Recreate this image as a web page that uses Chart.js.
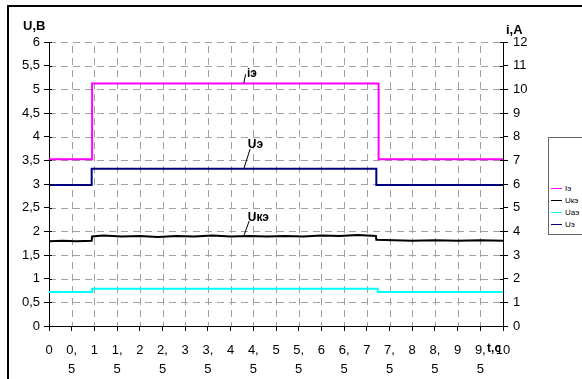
<!DOCTYPE html>
<html>
<head>
<meta charset="utf-8">
<script src="https://cdn.jsdelivr.net/npm/chart.js@4"></script>
<style>
	body { margin: 0; background: #fff; overflow: hidden; }
	#wrap { position: relative; width: 582px; height: 379px; }
	#frame { position: absolute; left: 7px; top: 5px; width: 700px; height: 500px; border: 2px solid #000; box-sizing: border-box; }
	#legend { position: absolute; left: 548px; top: 137px; width: 60px; height: 98px; border: 1px solid #666; box-sizing: border-box; background: #fff;
		font: 8px "Liberation Sans", Arial, sans-serif; }
	.item { position: absolute; left: 2px; height: 10px; line-height: 10px; }
	.item span { display: inline-block; width: 11px; height: 0; vertical-align: middle; margin-right: 3px; }
</style>
</head>
<body>
<div id="wrap">
	<div id="frame"></div>
	<canvas id="chart"></canvas>
	<div id="legend"></div>
</div>
<script>
// ---- data ----
// time, c  (step in / step out of the pulse)
const iTime  = [0, 0.95, 0.95, 7.26, 7.26, 10];
const iE     = [7.05, 7.05, 10.25, 10.25, 7.05, 7.05];           // i, A

const uTime  = [0, 0.94, 0.94, 7.21, 7.21, 10];
const uE     = [2.98, 2.98, 3.32, 3.32, 2.98, 2.98];             // U, B

const ukTime = [0, 0.3, 0.6, 0.94, 0.95, 1.2, 1.6, 2.0, 2.4, 2.8, 3.2, 3.6, 4.0, 4.4, 4.8, 5.2, 5.6, 6.0, 6.4, 6.8, 7.2, 7.21, 7.6, 8.0, 8.5, 9.0, 9.5, 10];
const ukE    = [1.79, 1.80, 1.79, 1.80, 1.89, 1.91, 1.89, 1.90, 1.88, 1.90, 1.89, 1.91, 1.89, 1.90, 1.89, 1.90, 1.89, 1.91, 1.90, 1.92, 1.90, 1.82, 1.81, 1.80, 1.81, 1.80, 1.81, 1.80];

const uaTime = [0, 0.95, 0.95, 7.24, 7.24, 10];
const uaE    = [0.72, 0.72, 0.785, 0.785, 0.72, 0.72];

const seriesNames  = ["Iэ", "Uкэ", "Uaэ", "Uэ"];
const seriesColors = ["#ff00ff", "#000000", "#00ffff", "#000080"];

// labels written on the plot: [text, line from (t,v), line to (t,v), text at (t,v)]
const notes = [
	["iэ",  [4.29, 5.13], [4.33, 5.32], [4.36, 5.34]],
	["Uэ",  [4.29, 3.32], [4.43, 3.74], [4.38, 3.82]],
	["Uкэ", [4.29, 1.90], [4.41, 2.22], [4.38, 2.28]],
];

const FONT = '"Liberation Sans", Arial, sans-serif';

function pts(xs, ys) { return xs.map((x, i) => ({ x: x, y: ys[i] })); }

function lineSet(idx, xs, ys, axis) {
	return {
		label: seriesNames[idx],
		data: pts(xs, ys),
		borderColor: seriesColors[idx],
		backgroundColor: seriesColors[idx],
		borderWidth: 2,
		pointRadius: 0,
		tension: 0,
		yAxisID: axis,
	};
}

function commaNum(v) { return String(v).replace(".", ","); }

/// dashed grid under the lines (the option for grid dashes gets eaten by the indexable resolver)
const dashGridPlugin = {
	id: "dashGrid",
	beforeDatasetsDraw(chart) {
		const ctx = chart.ctx;
		const area = chart.chartArea;
		const sx = chart.scales.x, sy = chart.scales.y;
		ctx.save();
		ctx.strokeStyle = "#a0a0a0";
		ctx.lineWidth = 1;
		ctx.setLineDash([7, 5]);
		ctx.beginPath();
		sy.ticks.forEach(t => {
			if (t.value === sy.min) return;
			const y = Math.round(sy.getPixelForValue(t.value)) + 0.5;
			ctx.moveTo(area.left, y); ctx.lineTo(area.right, y);
		});
		ctx.stroke();
		ctx.beginPath();
		ctx.lineDashOffset = 3;
		sx.ticks.forEach(t => {
			if (t.value === sx.min || t.value === sx.max) return;
			const x = Math.round(sx.getPixelForValue(t.value)) + 0.5;
			ctx.moveTo(x, area.bottom); ctx.lineTo(x, area.top);
		});
		ctx.stroke();
		ctx.restore();
	}
};

/// short solid ticks drawn on the inner side of the axes, plus titles and notes
const extrasPlugin = {
	id: "extras",
	afterDraw(chart) {
		const ctx = chart.ctx;
		const area = chart.chartArea;
		const sx = chart.scales.x, sy = chart.scales.y, sr = chart.scales.yR;
		ctx.save();
		ctx.strokeStyle = "#000";
		ctx.lineWidth = 1;
		ctx.beginPath();
		sy.ticks.forEach(t => {
			const y = Math.round(sy.getPixelForValue(t.value)) + 0.5;
			ctx.moveTo(area.left, y); ctx.lineTo(area.left + 3, y);
		});
		sr.ticks.forEach(t => {
			const y = Math.round(sr.getPixelForValue(t.value)) + 0.5;
			ctx.moveTo(area.right - 3, y); ctx.lineTo(area.right, y);
		});
		ctx.stroke();

		// axis titles
		ctx.fillStyle = "#000";
		ctx.font = "bold 13px " + FONT;
		ctx.textBaseline = "middle";
		ctx.textAlign = "left";
		ctx.fillText("U,B", area.left - 26, area.top - 16);
		ctx.fillText("i,A", area.right + 3, area.top - 12);
		ctx.font = "bold 12px " + FONT;
		ctx.fillText("t,c", sx.getPixelForValue(9.65), area.bottom + 23);

		// notes with leader lines
		ctx.font = "bold 12px " + FONT;
		notes.forEach(n => {
			ctx.beginPath();
			ctx.moveTo(sx.getPixelForValue(n[1][0]), sy.getPixelForValue(n[1][1]));
			ctx.lineTo(sx.getPixelForValue(n[2][0]), sy.getPixelForValue(n[2][1]));
			ctx.stroke();
			ctx.fillText(n[0], sx.getPixelForValue(n[3][0]), sy.getPixelForValue(n[3][1]));
		});
		ctx.restore();
	}
};

const gridStyle = { drawOnChartArea: false, tickColor: "#000", tickLength: 5 };
const borderStyle = { display: true, color: "#000", width: 1 };

const chart = new Chart(document.getElementById("chart"), {
	type: "line",
	data: {
		datasets: [
			lineSet(0, iTime, iE, "yR"),
			lineSet(1, ukTime, ukE, "y"),
			lineSet(2, uaTime, uaE, "y"),
			lineSet(3, uTime, uE, "y"),
		],
	},
	options: {
		responsive: true,
		maintainAspectRatio: false,
		animation: false,
		layout: { padding: { top: 42, left: 0, right: 0, bottom: 0 } },
		plugins: { legend: { display: false }, tooltip: { enabled: false } },
		scales: {
			x: {
				type: "linear",
				min: 0, max: 10,
				grid: gridStyle,
				border: borderStyle,
				ticks: {
					stepSize: 0.5,
					maxRotation: 0,
					autoSkip: false,
					padding: 10,
					color: "#000",
					font: { family: FONT, size: 13, lineHeight: 1.45 },
					callback: v => Number.isInteger(v) ? String(v) : [Math.floor(v) + ",", "5"],
				},
				afterFit: s => { s.height = 53; },
			},
			y: {
				position: "left",
				min: 0, max: 6,
				grid: gridStyle,
				border: borderStyle,
				ticks: { stepSize: 0.5, padding: 4, color: "#000", font: { family: FONT, size: 13 }, callback: v => commaNum(v) },
				afterFit: s => { s.width = 49; },
			},
			yR: {
				position: "right",
				min: 0, max: 12,
				grid: gridStyle,
				border: borderStyle,
				ticks: { stepSize: 1, padding: 5, color: "#000", font: { family: FONT, size: 13 } },
				afterFit: s => { s.width = 79; },
			},
		},
	},
	plugins: [dashGridPlugin, extrasPlugin],
});

// legend built from the datasets
const legend = document.getElementById("legend");
chart.data.datasets.forEach((ds, i) => {
	const el = document.createElement("div");
	el.className = "item";
	el.style.top = (46 + i * 12) + "px";
	el.innerHTML = '<span style="border-top:1.5px solid ' + ds.borderColor + '"></span>' + ds.label;
	legend.appendChild(el);
});
</script>
</body>
</html>
